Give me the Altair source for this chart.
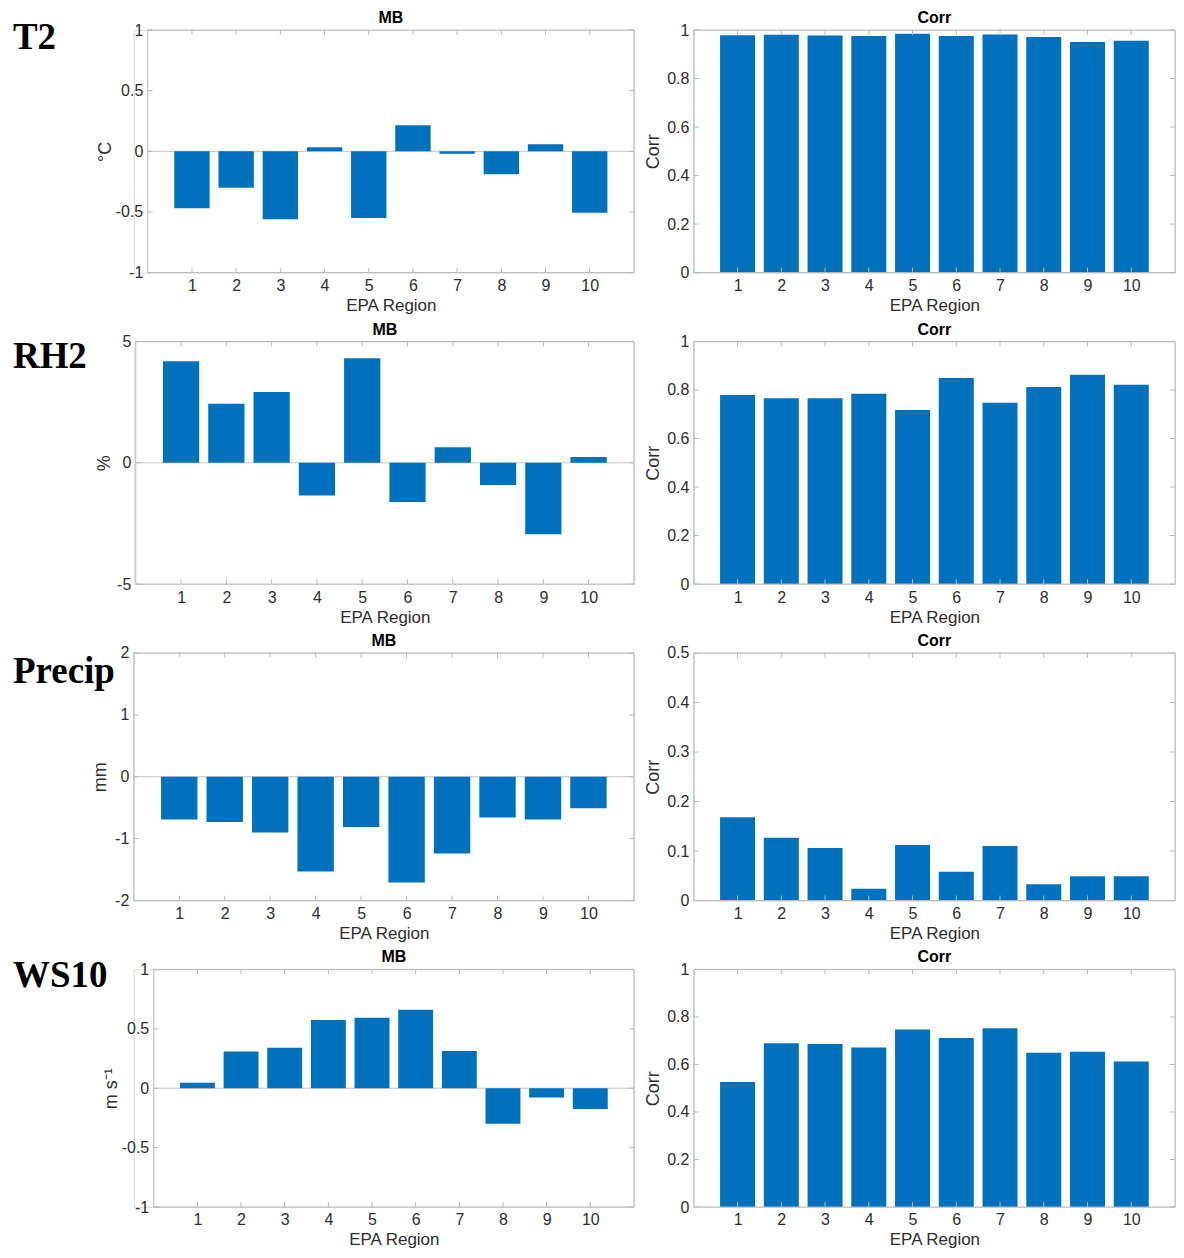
import altair as alt
import pandas as pd

# ---------------- data ----------------
regions = [1, 2, 3, 4, 5, 6, 7, 8, 9, 10]

t2_mb = [-0.47, -0.30, -0.56, 0.033, -0.55, 0.215, -0.02, -0.19, 0.058, -0.506]
t2_corr = [0.978, 0.981, 0.977, 0.975, 0.985, 0.975, 0.982, 0.971, 0.951, 0.956]

rh2_mb = [4.19, 2.43, 2.92, -1.35, 4.31, -1.62, 0.64, -0.92, -2.95, 0.24]
rh2_corr = [0.779, 0.766, 0.766, 0.785, 0.718, 0.849, 0.747, 0.812, 0.863, 0.822]

precip_mb = [-0.69, -0.73, -0.90, -1.53, -0.81, -1.71, -1.24, -0.66, -0.69, -0.51]
precip_corr = [0.168, 0.127, 0.106, 0.024, 0.112, 0.058, 0.110, 0.033, 0.049, 0.049]

ws10_mb = [0.045, 0.31, 0.34, 0.574, 0.594, 0.661, 0.314, -0.30, -0.078, -0.174]
ws10_corr = [0.526, 0.689, 0.686, 0.671, 0.747, 0.711, 0.752, 0.649, 0.653, 0.612]

row_labels = ["T2", "RH2", "Precip", "WS10"]
mb_units = ["°C", "%", "mm", "m s⁻¹"]
mb_domains = [[-1, 1], [-5, 5], [-2, 2], [-1, 1]]
mb_ticks = [[-1, -0.5, 0, 0.5, 1], [-5, 0, 5], [-2, -1, 0, 1, 2], [-1, -0.5, 0, 0.5, 1]]
corr_domains = [[0, 1], [0, 1], [0, 0.5], [0, 1]]
corr_ticks = [[0, 0.2, 0.4, 0.6, 0.8, 1], [0, 0.2, 0.4, 0.6, 0.8, 1],
              [0, 0.1, 0.2, 0.3, 0.4, 0.5], [0, 0.2, 0.4, 0.6, 0.8, 1]]

# ---------------- style / layout ----------------
BLUE = "#0072BD"
BOX = "#b8b8b8"
TXT = "#2e2e2e"
SANS = "Liberation Sans"

MB_W = 501                      # common MB group width
box_off = [14, 2, 0, 20]        # where each MB frame starts inside the group
row_heights = [243, 243, 248, 238]
mb_extents = [30, 19, 21, 30]
label_dy = [19, 27, 30, 18]
LABEL_DX = -121
CORR_W = 482


def panel(values, title, ytitle, ydomain, yticks, width, height, extent,
          off=0, label=None, ldy=0, zero_line=False):
    df = pd.DataFrame({"Region": regions, "Value": values})
    xscale = alt.Scale(domain=[0, 11], range=[off, width], nice=False, zero=False)
    yscale = alt.Scale(domain=ydomain, nice=False, zero=False)
    xaxis = alt.Axis(values=regions, title="EPA Region", ticks=False, domain=False,
                     grid=False, labelFlush=False, labelPadding=5, titlePadding=4,
                     labelFontSize=16, titleFontSize=17, labelFont=SANS,
                     titleFont=SANS, titleFontWeight="normal", labelColor=TXT,
                     titleColor=TXT)
    yaxis = alt.Axis(values=yticks, title=ytitle, ticks=False, domain=False,
                     grid=False, labelFlush=False, labelExpr="'' + datum.value",
                     labelPadding=5, titlePadding=3, minExtent=extent,
                     maxExtent=extent, offset=-off, labelFontSize=16,
                     titleFontSize=18, labelFont=SANS, titleFont=SANS,
                     titleFontWeight="normal", labelColor=TXT, titleColor=TXT)

    bars = alt.Chart(df).transform_calculate(
        x0="datum.Region - 0.4", x1="datum.Region + 0.4", base="0"
    ).mark_bar(color=BLUE).encode(
        x=alt.X("x0:Q", scale=xscale, axis=xaxis),
        x2="x1:Q",
        y=alt.Y("Value:Q", scale=yscale, axis=yaxis),
        y2="base:Q",
    )

    tdf = pd.DataFrame({"x0": regions})
    xt_bottom = alt.Chart(tdf).mark_rule(color=BOX, strokeWidth=1).encode(
        x=alt.X("x0:Q", scale=xscale, axis=xaxis),
        y=alt.value(height), y2=alt.value(height - 5))
    xt_top = alt.Chart(tdf).mark_rule(color=BOX, strokeWidth=1).encode(
        x=alt.X("x0:Q", scale=xscale, axis=xaxis),
        y=alt.value(0), y2=alt.value(5))
    ydf = pd.DataFrame({"Value": yticks})
    yt_left = alt.Chart(ydf).mark_rule(color=BOX, strokeWidth=1).encode(
        y=alt.Y("Value:Q", scale=yscale, axis=yaxis),
        x=alt.value(off), x2=alt.value(off + 5))
    yt_right = alt.Chart(ydf).mark_rule(color=BOX, strokeWidth=1).encode(
        y=alt.Y("Value:Q", scale=yscale, axis=yaxis),
        x=alt.value(width - 5), x2=alt.value(width))

    layers = []
    if zero_line:
        zdf = pd.DataFrame({"Value": [0]})
        layers.append(alt.Chart(zdf).mark_rule(color="#c4c4c4", strokeWidth=1).encode(
            y=alt.Y("Value:Q", scale=yscale, axis=yaxis),
            x=alt.value(off), x2=alt.value(width)))
    layers.append(bars)
    layers += [xt_bottom, xt_top, yt_left, yt_right]

    frame = pd.DataFrame({"f": [0]})
    layers.append(alt.Chart(frame).mark_rect(
        fillOpacity=0, stroke=BOX, strokeWidth=1
    ).encode(x=alt.value(off), x2=alt.value(width),
             y=alt.value(0), y2=alt.value(height)))

    top_bound = -8
    if label is not None:
        ldf = pd.DataFrame({"label": [label]})
        layers.append(alt.Chart(ldf).mark_text(
            font="Liberation Serif", fontWeight="bold", fontSize=37,
            align="left", baseline="alphabetic", color="black"
        ).encode(text="label:N", x=alt.value(LABEL_DX), y=alt.value(ldy)))
        top_bound = min(top_bound, ldy - 30)

    return alt.layer(*layers).properties(
        width=width, height=height,
        title=alt.TitleParams(text=title, fontSize=16, fontWeight="bold",
                              font=SANS, color="black", offset=top_bound + 4,
                              frame="group", anchor="middle", dx=off / 2),
    )


mb_series = [t2_mb, rh2_mb, precip_mb, ws10_mb]
corr_series = [t2_corr, rh2_corr, precip_corr, ws10_corr]

rows = []
for i in range(4):
    mb = panel(mb_series[i], "MB", mb_units[i], mb_domains[i], mb_ticks[i],
               MB_W, row_heights[i], mb_extents[i], off=box_off[i],
               label=row_labels[i], ldy=label_dy[i], zero_line=True)
    cr = panel(corr_series[i], "Corr", "Corr", corr_domains[i], corr_ticks[i],
               CORR_W, row_heights[i], 28)
    rows.append(alt.hconcat(mb, cr, spacing=9))

chart = alt.vconcat(*rows, spacing=6).properties(
    padding={"left": 4, "top": 0, "right": 0, "bottom": 0}
).configure_view(strokeWidth=0).configure(background="white")

chart.save("out.html", embed_options={"renderer": "svg", "actions": False})
